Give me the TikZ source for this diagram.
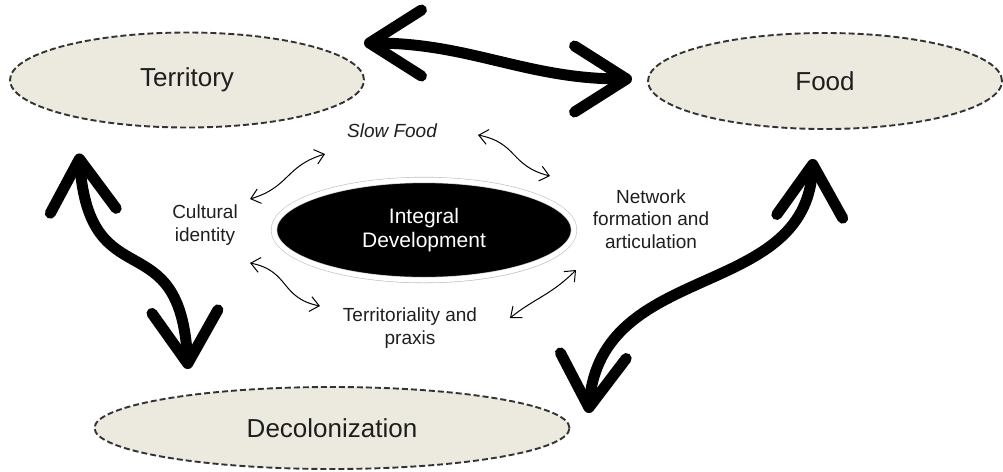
\documentclass[tikz,border=0pt]{standalone}
\usepackage{fontspec}
\setmainfont{Liberation Sans}
\usepackage{tikz}
\usetikzlibrary{arrows.meta,shapes.geometric,shadows}
\definecolor{beige}{RGB}{236,234,223}
\definecolor{ink}{RGB}{30,30,30}
\tikzset{
  theme/.style={ellipse,draw=black!80,dash pattern=on 6pt off 3pt,
    line width=1.9pt,fill=beige,inner sep=0pt,text=ink,
    font=\fontsize{26}{30}\selectfont},
  core/.style={ellipse,fill=black,draw=black!25,double=white,
    double distance=5pt,line width=0.6pt,minimum width=300pt,
    minimum height=100pt,inner sep=0pt,text=white,align=center,
    font=\fontsize{21}{24}\selectfont,
    drop shadow={shadow xshift=1pt,shadow yshift=-3pt,opacity=.3}},
  lbl/.style={align=center,inner sep=0pt,text=ink,
    font=\fontsize{19}{22.5}\selectfont},
  bigarr/.style={{Straight Barb[length=52pt,width=66pt,round]}-{Straight Barb[length=52pt,width=66pt,round]},
    line width=11pt},
  smallarr/.style={{Straight Barb[length=9pt,width=15pt]}-{Straight Barb[length=9pt,width=15pt]},
    line width=1pt},
}
\begin{document}
\begin{tikzpicture}[x=1pt,y=-1pt]
  \useasboundingbox (0,0) rectangle (1003,471);
  \node[theme,minimum width=354pt,minimum height=95pt] (terr) at (187,80) {Territory};
  \node[theme,minimum width=354pt,minimum height=96pt] (food) at (825,81) {Food};
  \node[theme,minimum width=475pt,minimum height=82pt] (decol) at (332,428) {Decolonization};
  \node[core] (dev) at (424,230) {Integral\\Development};
  \node[lbl,font=\fontsize{19}{22.5}\selectfont\itshape] (slow) at (392,131) {Slow Food};
  \node[lbl] (cult) at (205,225) {Cultural\\identity};
  \node[lbl] (net) at (651,219) {Network\\formation and\\articulation};
  \node[lbl] (terrp) at (410,328) {Territoriality and\\praxis};
  \draw[bigarr] ([shift={(-1,-37)}]terr.east) to[out=0,in=180] ([shift={(-15,-2)}]food.west);
  \draw[bigarr] ([shift={(-108,25)}]terr.south) .. controls +(11,148) and +(-8,-150) .. ([shift={(-144,-17)}]decol.north);
  \draw[bigarr] ([shift={(-12,29)}]food.south) .. controls +(-8,142) and +(13,-153) .. ([shift={(18,-15)}]decol.east);
  \draw[smallarr] ([shift={(45,-26)}]cult.center) .. controls +(40,-12) and +(-40,12) .. ([shift={(-67,23)}]slow.center);
  \draw[smallarr] ([shift={(86,4)}]slow.center) .. controls +(40,8) and +(-40,-10) .. ([shift={(-101,-43)}]net.center);
  \draw[smallarr] ([shift={(45,38)}]cult.center) .. controls +(40,8) and +(-40,-8) .. ([shift={(-90,-22)}]terrp.center);
  \draw[smallarr] ([shift={(100,-10)}]terrp.center) .. controls +(25,-20) and +(-25,25) .. ([shift={(-75,51)}]net.center);
\end{tikzpicture}
\end{document}
